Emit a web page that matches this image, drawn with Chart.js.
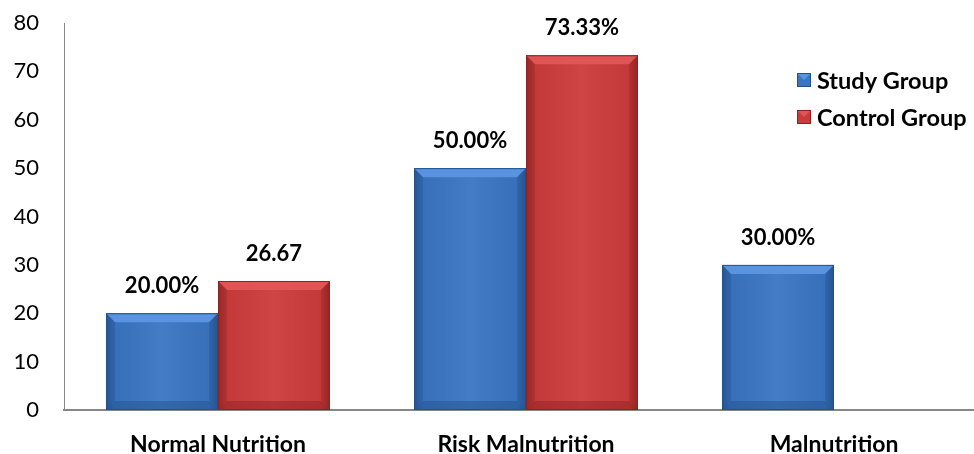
<!DOCTYPE html>
<html>
<head>
<meta charset="utf-8">
<script src="https://cdn.jsdelivr.net/npm/chart.js@4/dist/chart.umd.min.js"></script>
<style>
html,body{margin:0;padding:0;background:#fff;overflow:hidden;width:974px;height:454px;}
#c{display:block;}
</style>
</head>
<body>
<canvas id="c" width="1000" height="454"></canvas>
<script>
const categories = ["Normal Nutrition", "Risk Malnutrition", "Malnutrition"];
const seriesNames = ["Study Group", "Control Group"];
const studyValues = [20.00, 50.00, 30.00];
const controlValues = [26.67, 73.33, null];
const studyLabels = ["20.00%", "50.00%", "30.00%"];
const controlLabels = ["26.67", "73.33%", ""];
const yTicks = [0, 10, 20, 30, 40, 50, 60, 70, 80];

const BLUE = '#3a75c2', BLUE_L = '#5a96e0', BLUE_D = '#22508f';
const RED = '#cc3b3b', RED_L = '#e05656', RED_D = '#8e2222';
const FONT = 'Lato, "Open Sans", sans-serif';

const bevelPlugin = {
  id: 'bevel',
  afterDatasetsDraw(chart) {
    const ctx = chart.ctx;
    chart.data.datasets.forEach((ds, di) => {
      const meta = chart.getDatasetMeta(di);
      const light = di === 0 ? BLUE_L : RED_L;
      const dark = di === 0 ? BLUE_D : RED_D;
      meta.data.forEach((bar, i) => {
        if (ds.data[i] == null) return;
        const p = bar.getProps(['x', 'y', 'base', 'width'], true);
        const l = p.x - p.width / 2, r = p.x + p.width / 2, t = p.y, b = p.base;
        const bev = 9;
        ctx.save();
        const g = ctx.createLinearGradient(l, 0, r, 0);
        g.addColorStop(0, 'rgba(0,0,0,0.25)');
        g.addColorStop(0.08, 'rgba(0,0,0,0.04)');
        g.addColorStop(0.5, 'rgba(255,255,255,0.05)');
        g.addColorStop(0.92, 'rgba(0,0,0,0.04)');
        g.addColorStop(1, 'rgba(0,0,0,0.28)');
        ctx.fillStyle = g;
        ctx.fillRect(l, t, r - l, b - t);
        ctx.beginPath();
        ctx.moveTo(l, t); ctx.lineTo(r, t); ctx.lineTo(r - bev, t + bev); ctx.lineTo(l + bev, t + bev); ctx.closePath();
        ctx.fillStyle = light; ctx.globalAlpha = 0.95; ctx.fill();
        ctx.globalAlpha = 0.3;
        ctx.fillStyle = dark;
        ctx.beginPath();
        ctx.moveTo(l, t); ctx.lineTo(l + bev, t + bev); ctx.lineTo(l + bev, b - bev); ctx.lineTo(l, b); ctx.closePath();
        ctx.fill();
        ctx.beginPath();
        ctx.moveTo(r, t); ctx.lineTo(r - bev, t + bev); ctx.lineTo(r - bev, b - bev); ctx.lineTo(r, b); ctx.closePath();
        ctx.fill();
        ctx.globalAlpha = 0.45;
        ctx.beginPath();
        ctx.moveTo(l, b); ctx.lineTo(l + bev, b - bev); ctx.lineTo(r - bev, b - bev); ctx.lineTo(r, b); ctx.closePath();
        ctx.fill();
        ctx.globalAlpha = 1;
        ctx.strokeStyle = dark; ctx.lineWidth = 1;
        ctx.strokeRect(l + 0.5, t + 0.5, r - l - 1, b - t - 1);
        ctx.restore();
      });
    });
    const labelSets = [studyLabels, controlLabels];
    ctx.save();
    ctx.font = 'bold 22px ' + FONT;
    ctx.fillStyle = '#000';
    ctx.textAlign = 'center';
    ctx.textBaseline = 'middle';
    chart.data.datasets.forEach((ds, di) => {
      const meta = chart.getDatasetMeta(di);
      meta.data.forEach((bar, i) => {
        if (ds.data[i] == null) return;
        const p = bar.getProps(['x', 'y'], true);
        ctx.fillText(labelSets[di][i], p.x, p.y - 27);
      });
    });
    const lx = 797, ly = [80, 117];
    chart.data.datasets.forEach((ds, di) => {
      const base = di === 0 ? BLUE : RED, light = di === 0 ? BLUE_L : RED_L, dark = di === 0 ? BLUE_D : RED_D;
      const y = ly[di];
      ctx.fillStyle = base; ctx.fillRect(lx, y - 7, 14, 14);
      ctx.fillStyle = light;
      ctx.beginPath(); ctx.moveTo(lx, y - 7); ctx.lineTo(lx + 14, y - 7); ctx.lineTo(lx + 7, y); ctx.closePath(); ctx.fill();
      ctx.strokeStyle = dark; ctx.lineWidth = 1; ctx.strokeRect(lx + 0.5, y - 6.5, 13, 13);
      ctx.fillStyle = '#000'; ctx.textAlign = 'left';
      ctx.font = 'bold 23.5px ' + FONT;
      ctx.fillText(ds.label, lx + 20, y + 1);
    });
    ctx.restore();
  }
};

new Chart(document.getElementById('c'), {
  type: 'bar',
  data: {
    labels: categories,
    datasets: [
      { label: seriesNames[0], data: studyValues, backgroundColor: BLUE, borderWidth: 0 },
      { label: seriesNames[1], data: controlValues, backgroundColor: RED, borderWidth: 0 }
    ]
  },
  options: {
    responsive: false,
    animation: false,
    devicePixelRatio: 1,
    layout: { padding: { top: 23, right: 12, left: 0, bottom: 0 } },
    datasets: { bar: { categoryPercentage: 0.727, barPercentage: 1.0 } },
    plugins: { legend: { display: false }, tooltip: { enabled: false } },
    scales: {
      x: {
        grid: { display: false, drawTicks: false },
        border: { display: true, color: '#868686', width: 2 },
        ticks: { color: '#000', padding: 21, font: { family: FONT, size: 23, weight: 'bold' } },
        afterFit(s) { s.height = 44; s.paddingLeft = 0; s.paddingRight = 0; }
      },
      y: {
        min: 0, max: 80,
        afterBuildTicks(s) { s.ticks = yTicks.map(v => ({ value: v })); },
        grid: { display: false, drawTicks: false },
        border: { display: true, color: '#868686', width: 1 },
        ticks: { color: '#000', padding: 25, font: { family: FONT, size: 22 } },
        afterFit(s) { s.width = 64; s.paddingTop = 0; s.paddingBottom = 0; }
      }
    }
  },
  plugins: [bevelPlugin]
});
</script>
</body>
</html>
